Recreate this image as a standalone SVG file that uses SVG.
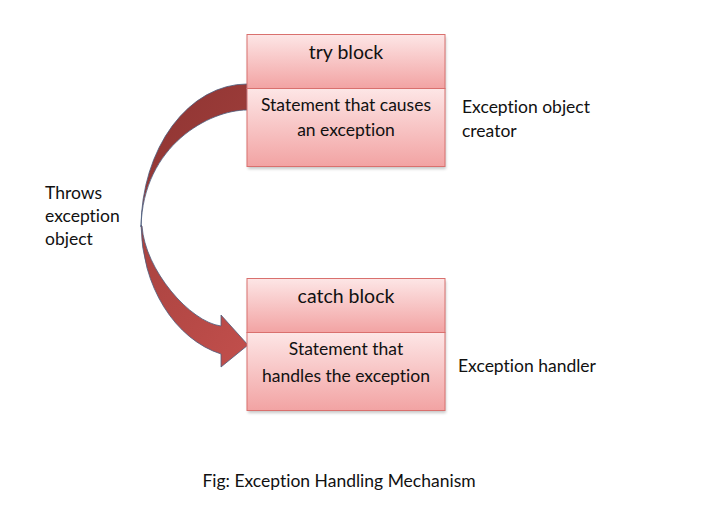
<svg xmlns="http://www.w3.org/2000/svg" width="708" height="514" viewBox="0 0 708 514">
<defs>
<linearGradient id="sec" x1="0" y1="0" x2="0" y2="1">
<stop offset="0" stop-color="#fde6e6"/>
<stop offset="1" stop-color="#f2a3a3"/>
</linearGradient>
<linearGradient id="back" x1="0" y1="0" x2="1" y2="1">
<stop offset="0" stop-color="#8e3432"/>
<stop offset="1" stop-color="#a3403d"/>
</linearGradient>
<linearGradient id="front" x1="0" y1="0" x2="1" y2="1">
<stop offset="0" stop-color="#a8423f"/>
<stop offset="1" stop-color="#c24f4c"/>
</linearGradient>
<filter id="sh" x="-10%" y="-10%" width="120%" height="130%">
<feGaussianBlur stdDeviation="1.5"/>
</filter>
</defs>
<style>
.sec{fill:url(#sec);stroke:#d9706e;stroke-width:1}
.shadow{fill:#000;opacity:0.22;filter:url(#sh)}
text{font-family:Lato,"Liberation Sans",sans-serif;font-size:17.5px;fill:#111;font-variant-ligatures:none;font-feature-settings:"liga" 0}
.c{text-anchor:middle}
.head{font-size:19.5px}
.arr{stroke:#4b5d7e;stroke-width:0.8;stroke-linejoin:round}
</style>
<rect width="708" height="514" fill="#fff"/>

<g id="connectors">
<path class="arr" fill="url(#back)" d="M247,84 A106,144 0 0 0 141,227 C143,145 210,110 247,110 Z"/>
<path class="arr" fill="url(#front)" d="M141,225 A106,135 0 0 0 221,354 L221,367 L248,345 L221,315 L221,326 C190,322 145,270 142,226 Z"/>
</g>

<g id="try">
<rect class="shadow" x="248" y="37" width="198" height="132"/>
<rect class="sec" x="247" y="34.5" width="198" height="54"/>
<rect class="sec" x="247" y="88.5" width="198" height="78"/>
<text class="c head" x="346" y="59">try block</text>
<text class="c" x="346" y="111">Statement that causes</text>
<text class="c" x="346" y="136">an exception</text>
</g>

<g id="catch">
<rect class="shadow" x="248" y="281" width="198" height="132"/>
<rect class="sec" x="247" y="278.5" width="198" height="54"/>
<rect class="sec" x="247" y="332.5" width="198" height="78"/>
<text class="c head" x="346" y="303">catch block</text>
<text class="c" x="346" y="355">Statement that</text>
<text class="c" x="346" y="382">handles the exception</text>
</g>

<g id="labels">
<text x="462" y="113">Exception object</text>
<text x="462" y="137">creator</text>
<text x="45" y="199">Throws</text>
<text x="45" y="222">exception</text>
<text x="45" y="245">object</text>
<text x="458" y="372">Exception handler</text>
<text class="c" x="339" y="487">Fig: Exception Handling Mechanism</text>
</g>
</svg>
